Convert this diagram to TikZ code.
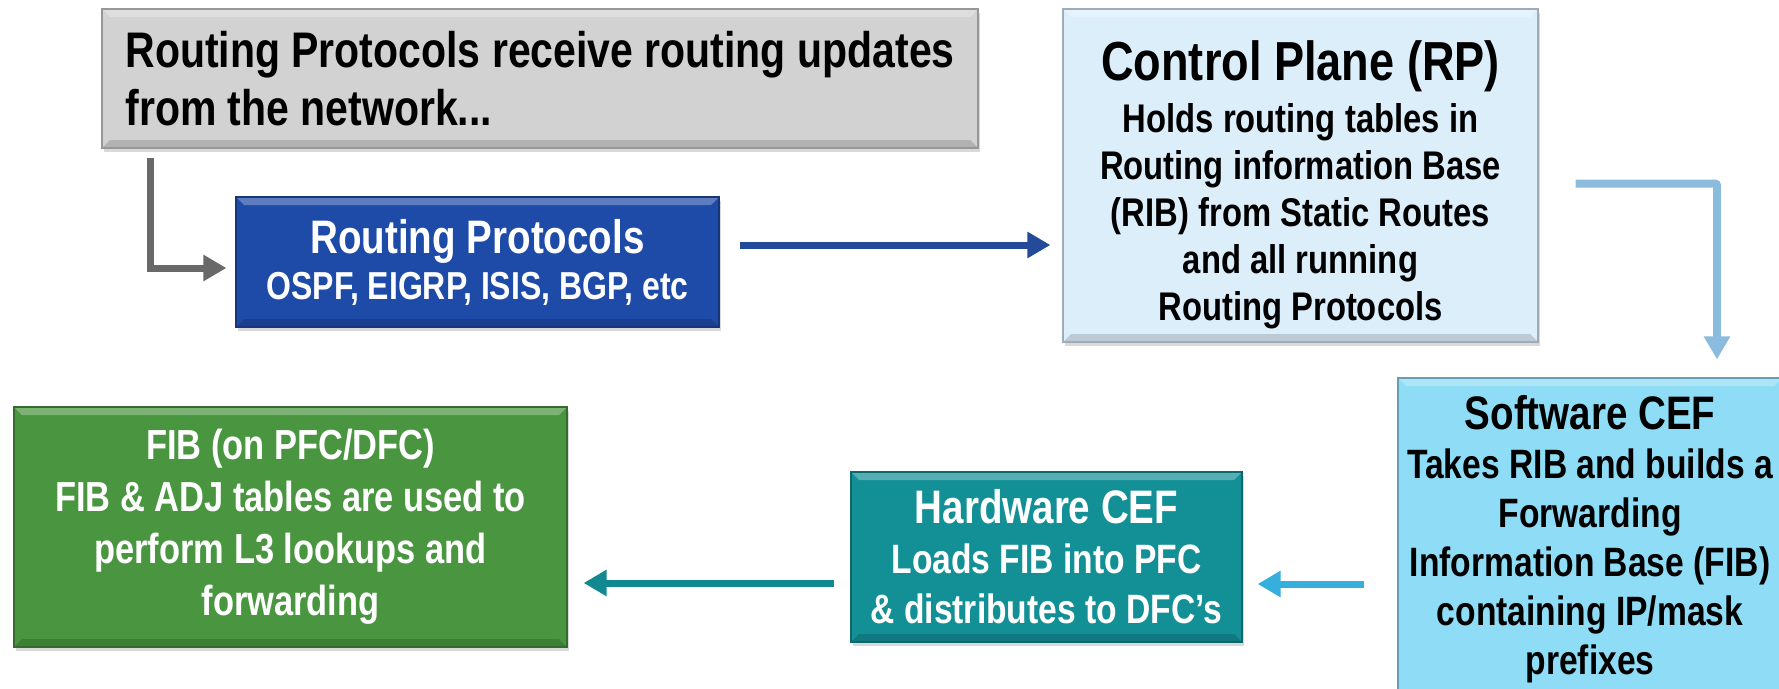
\documentclass[tikz,border=0pt]{standalone}
\usepackage{fontspec}
\setmainfont{Liberation Sans}[FakeStretch=0.82]
\usetikzlibrary{arrows.meta,shadows,calc}
\definecolor{greyfill}{HTML}{D2D2D2}
\definecolor{protofill}{HTML}{1F4BA8}
\definecolor{ctrlfill}{HTML}{DDEEFB}
\definecolor{swfill}{HTML}{8EDCF6}
\definecolor{hwfill}{HTML}{138F96}
\definecolor{fibfill}{HTML}{4A9640}
\definecolor{greyarrow}{HTML}{696969}
\definecolor{bluearrow}{HTML}{234B9A}
\definecolor{palearrow}{HTML}{8CBCDD}
\definecolor{skyarrow}{HTML}{36AEDE}
\definecolor{tealarrow}{HTML}{128890}
\begin{document}
\begin{tikzpicture}[x=1pt,y=-1pt,
  box/.style={fill=#1,draw=#1!72!black,line width=1.2pt,inner sep=0pt,align=center,
    drop shadow={opacity=0.3,shadow xshift=2pt,shadow yshift=-4pt},
    path picture={
      \fill[white,opacity=0.28] (path picture bounding box.north west) -- (path picture bounding box.north east)
        -- ++(-8,8) -- ($(path picture bounding box.north west)+(8,8)$) -- cycle;
      \fill[black,opacity=0.15] (path picture bounding box.south west) -- (path picture bounding box.south east)
        -- ++(-8,-8) -- ($(path picture bounding box.south west)+(8,-8)$) -- cycle;}},
  arr/.style={draw=#1,line width=7pt,-{Triangle[length=23pt,width=25pt]}}]
\useasboundingbox (0,0) rectangle (1779,688);
\clip (0,0) rectangle (1779,688);
% boxes
\node[box=greyfill,minimum width=876,minimum height=139,align=left,
  font=\fontsize{50}{58}\selectfont\bfseries] (upd) at (540,78.5)
  {Routing Protocols receive routing updates\\from the network...};
\node[box=protofill,minimum width=483,minimum height=130,text=white,
  font=\fontsize{39}{46}\selectfont\bfseries] (proto) at (477.5,262)
  {{\fontsize{47}{52}\selectfont Routing Protocols}\\OSPF, EIGRP, ISIS, BGP, etc};
\node[box=ctrlfill,minimum width=475,minimum height=333,
  font=\fontsize{40}{47}\selectfont\bfseries] (ctrl) at (1300.5,175.5)
  {{\fontsize{55}{62}\selectfont\rule{0pt}{58pt}Control Plane (RP)}\\[5pt]Holds routing tables in\\Routing information Base\\(RIB) from Static Routes\\and all running\\Routing Protocols};
\node[box=swfill,minimum width=384,minimum height=322,
  font=\fontsize{41}{49}\selectfont\bfseries] (sw) at (1590,539)
  {{\fontsize{47}{52}\selectfont Software CEF}\\Takes RIB and builds a\\Forwarding\\Information Base (FIB)\\containing IP/mask\\prefixes};
\node[box=hwfill,minimum width=391,minimum height=170,text=white,
  font=\fontsize{41}{50}\selectfont\bfseries] (hw) at (1046.5,557)
  {{\fontsize{47}{52}\selectfont Hardware CEF}\\Loads FIB into PFC\\\& distributes to DFC’s};
\node[box=fibfill,minimum width=553,minimum height=240,text=white,
  font=\fontsize{42}{52}\selectfont\bfseries] (fib) at (290.5,527)
  {FIB (on PFC/DFC)\\FIB \& ADJ tables are used to\\perform L3 lookups and\\forwarding};
% connectors
\draw[arr=greyarrow] ($(upd.south west)+(49,9)$) |- ($(proto.west)+(-9,6)$);
\draw[arr=bluearrow] ($(proto.east)+(20,-17)$) -- ($(proto.east -| ctrl.west)+(-12,-17)$);
\draw[arr=palearrow,line width=8pt,rounded corners=2] ($(ctrl.east)+(37,8)$) -| ($(sw.north)+(127,-18)$);
\draw[arr=skyarrow] ($(sw.west |- hw.east)+(-33,27)$) -- ($(hw.east)+(15,27)$);
\draw[arr=tealarrow] ($(hw.west)+(-16,26)$) -- ($(fib.east |- hw.west)+(16,26)$);
\end{tikzpicture}
\end{document}
